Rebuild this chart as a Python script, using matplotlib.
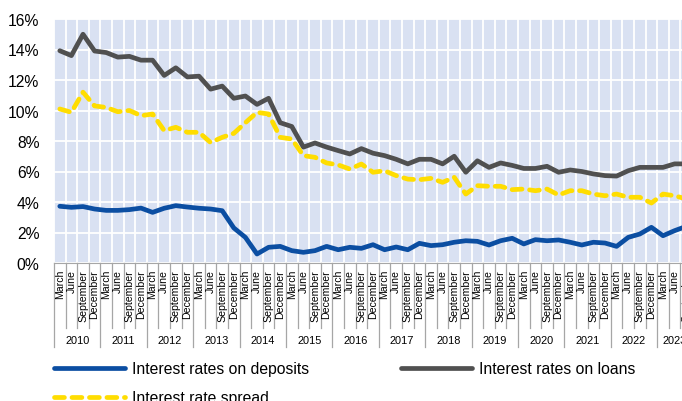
import numpy as np
import matplotlib
matplotlib.use('Agg')
import matplotlib.pyplot as plt

plt.rcParams['font.family'] = ['Liberation Sans', 'DejaVu Sans']

months = ['March', 'June', 'September', 'December']
years = list(range(2010, 2024))

deposits = [3.72, 3.65, 3.70, 3.54, 3.45, 3.45, 3.50, 3.60, 3.32, 3.59, 3.76, 3.67,
            3.59, 3.54, 3.43, 2.30, 1.68, 0.59, 1.03, 1.09, 0.81, 0.70, 0.81, 1.09,
            0.87, 1.03, 0.96, 1.20, 0.87, 1.05, 0.87, 1.29, 1.14, 1.20, 1.36, 1.46,
            1.42, 1.18, 1.46, 1.62, 1.25, 1.53, 1.46, 1.51, 1.36, 1.18, 1.36, 1.31,
            1.09, 1.68, 1.90, 2.34, 1.79, 2.12, 2.40]
loans = [13.92, 13.6, 15.0, 13.9, 13.8, 13.5, 13.55, 13.3, 13.3, 12.3, 12.8, 12.2,
         12.25, 11.4, 11.6, 10.8, 10.95, 10.4, 10.8, 9.2, 8.95, 7.6, 7.87, 7.6,
         7.37, 7.15, 7.5, 7.2, 7.04, 6.8, 6.5, 6.8, 6.8, 6.5, 7.0, 5.95,
         6.7, 6.27, 6.56, 6.4, 6.2, 6.2, 6.34, 5.95, 6.1, 6.0, 5.84, 5.73,
         5.7, 6.05, 6.27, 6.27, 6.27, 6.5, 6.5]
spread = [10.1, 9.88, 11.2, 10.3, 10.2, 9.92, 10.0, 9.66, 9.77, 8.68, 8.9, 8.57,
          8.57, 7.9, 8.24, 8.5, 9.2, 9.88, 9.77, 8.24, 8.13, 7.04, 6.93, 6.56,
          6.43, 6.16, 6.49, 5.95, 6.05, 5.73, 5.5, 5.46, 5.55, 5.29, 5.62, 4.52,
          5.07, 5.03, 5.03, 4.81, 4.85, 4.74, 4.85, 4.46, 4.74, 4.74, 4.52, 4.41,
          4.52, 4.31, 4.31, 3.93, 4.52, 4.41, 4.2]

n_slots = len(deposits)
x = np.arange(n_slots)

blue = '#0B4EA2'
grey = '#505050'
yellow = '#FFDD00'
bg = '#D9E1F2'
sep = '#A6A6A6'

fig = plt.figure(figsize=(6.82, 4.02), dpi=100)
ax = fig.add_axes([54 / 682, 138 / 402, n_slots * 11.6 / 682, 244 / 402])
ax.set_facecolor(bg)

l_dep, = ax.plot(x, deposits, color=blue, lw=3.4, solid_capstyle='round',
                 label='Interest rates on deposits')
l_loan, = ax.plot(x, loans, color=grey, lw=3.4, solid_capstyle='round',
                  label='Interest rates on loans')
l_spr, = ax.plot(x, spread, color=yellow, lw=3.4, ls=(0, (2.1, 1.6)),
                 dash_capstyle='round', label='Interest rate spread')

ax.set_xlim(-0.5, n_slots - 0.5)
ax.set_ylim(0, 16)
ax.set_yticks(np.arange(0, 17, 2))
ax.set_yticklabels([f'{v}%' for v in range(0, 17, 2)], fontsize=11.3)
ax.tick_params(axis='y', length=0, pad=10.5)
ax.set_xticks([])
ax.set_xticks(np.arange(-0.5, n_slots, 1), minor=True)
ax.tick_params(axis='x', which='minor', length=0)
ax.grid(True, which='minor', axis='x', color='white', lw=1.3)
ax.grid(True, which='major', axis='y', color='white', lw=1.3)
ax.set_axisbelow(True)
for s in ['top', 'right', 'left']:
    ax.spines[s].set_visible(False)
ax.spines['bottom'].set_color(sep)

# category axis: months and years
tr = ax.get_xaxis_transform()
for i in range(n_slots):
    ax.text(i, -0.025, months[i % 4], rotation=90, ha='center', va='top',
            fontsize=7.6, transform=tr, clip_on=False)
    bottom = -0.345 if i % 4 == 0 else -0.265
    ax.plot([i - 0.5, i - 0.5], [0, bottom], color=sep, lw=0.9,
            transform=tr, clip_on=False)
for k, yr in enumerate(years):
    first = 4 * k
    last = min(4 * k + 3, n_slots - 1)
    ax.text((first + last) / 2, -0.315, str(yr), ha='center', va='center',
            fontsize=7.9, transform=tr, clip_on=False)

fig.legend(handles=[l_dep, l_spr, l_loan], loc='upper left',
           bbox_to_anchor=(47.7 / 682, 1 - 356 / 402), ncol=2, frameon=False,
           fontsize=11.3, handlelength=4.5, handletextpad=0.45,
           columnspacing=5.9, labelspacing=0.9, borderaxespad=0)

fig.savefig('out.png', dpi=100)
